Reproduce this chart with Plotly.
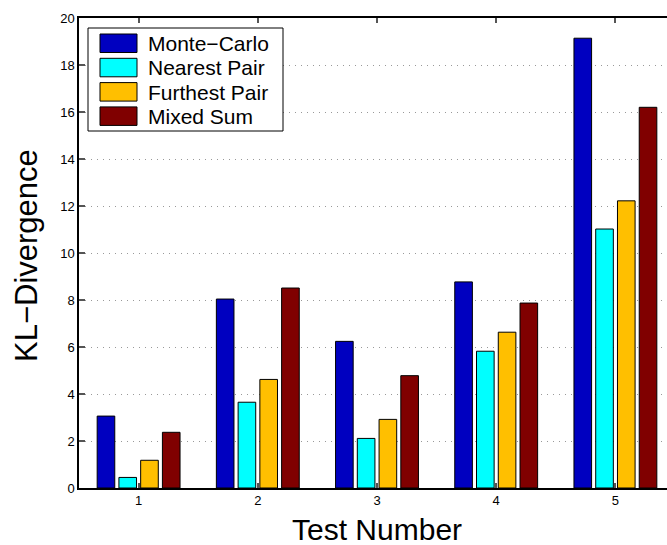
import plotly.graph_objects as go

# KL-divergence per test for each sampling strategy
tests = [1, 2, 3, 4, 5]
series_names = ["Monte\u2212Carlo", "Nearest Pair", "Furthest Pair", "Mixed Sum"]
monte_carlo = [3.06, 8.04, 6.24, 8.77, 19.14]
nearest_pair = [0.45, 3.65, 2.11, 5.82, 11.02]
furthest_pair = [1.18, 4.62, 2.92, 6.63, 12.22]
mixed_sum = [2.37, 8.51, 4.78, 7.87, 16.20]
y_ticks = [0, 2, 4, 6, 8, 10, 12, 14, 16, 18, 20]

series_values = [monte_carlo, nearest_pair, furthest_pair, mixed_sum]
colors = ["#0000C0", "#00FFFF", "#FFBF00", "#800000"]

FONT = "Liberation Sans, Arial, Helvetica, sans-serif"
W, H = 667, 545
L, R, T, B = 79, 0, 18, 57
PW, PH = W - L - R, H - T - B


def px_x(p):
    return (p - L) / PW


def px_y(p):
    return (H - B - p) / PH


fig = go.Figure()
for name, vals, col in zip(series_names, series_values, colors):
    fig.add_trace(go.Bar(
        x=tests, y=vals, name=name,
        marker=dict(color=col, line=dict(color="black", width=1)),
        showlegend=False,
    ))

# boxed legend with large swatches
shapes = [dict(type="rect", xref="paper", yref="paper",
               x0=px_x(88), x1=px_x(283), y0=px_y(131), y1=px_y(28),
               line=dict(color="black", width=1), fillcolor="white", layer="above")]
annotations = []
for i, (name, col) in enumerate(zip(series_names, colors)):
    top = 34 + i * 24.3
    shapes.append(dict(type="rect", xref="paper", yref="paper",
                       x0=px_x(100), x1=px_x(137), y0=px_y(top + 18.5), y1=px_y(top),
                       line=dict(color="black", width=1), fillcolor=col, layer="above"))
    annotations.append(dict(xref="paper", yref="paper", x=px_x(146), y=px_y(top + 9.5),
                            text=name, showarrow=False, xanchor="left", yanchor="middle",
                            font=dict(family=FONT, size=21, color="black")))

annotations.append(dict(xref="paper", yref="paper", x=px_x(376.5), y=px_y(529),
                        text="Test Number", showarrow=False, xanchor="center", yanchor="middle",
                        font=dict(family=FONT, size=30, color="black")))
annotations.append(dict(xref="paper", yref="paper", x=px_x(27), y=px_y(256),
                        text="KL\u2212Divergence", showarrow=False, textangle=-90,
                        xanchor="center", yanchor="middle",
                        font=dict(family=FONT, size=31, color="black")))

fig.update_layout(
    width=W, height=H,
    margin=dict(l=L, r=R, t=T, b=B, pad=0),
    paper_bgcolor="white", plot_bgcolor="white",
    barmode="group", bargap=0.27, bargroupgap=0.19,
    font=dict(family=FONT, size=13, color="black"),
    shapes=shapes, annotations=annotations,
    showlegend=False,
)
fig.update_xaxes(
    range=[0.5, 0.5 + PW / 119.2], tickvals=tests, ticktext=[str(t) for t in tests],
    showline=True, linecolor="black", linewidth=1.5, mirror="ticks",
    ticks="inside", ticklen=5, tickcolor="#555555", tickwidth=1.5,
    showgrid=False, zeroline=False, tickfont=dict(size=13),
)
fig.update_yaxes(
    range=[0, 20], tickvals=y_ticks, ticktext=[str(v) for v in y_ticks],
    showline=True, linecolor="black", linewidth=1.5, mirror=False,
    ticks="inside", ticklen=6, tickcolor="#555555", tickwidth=1.5,
    showgrid=True, gridcolor="#999999", gridwidth=1, griddash="1px,5px",
    zeroline=False, tickfont=dict(size=13),
)

fig.write_html("out.html")
